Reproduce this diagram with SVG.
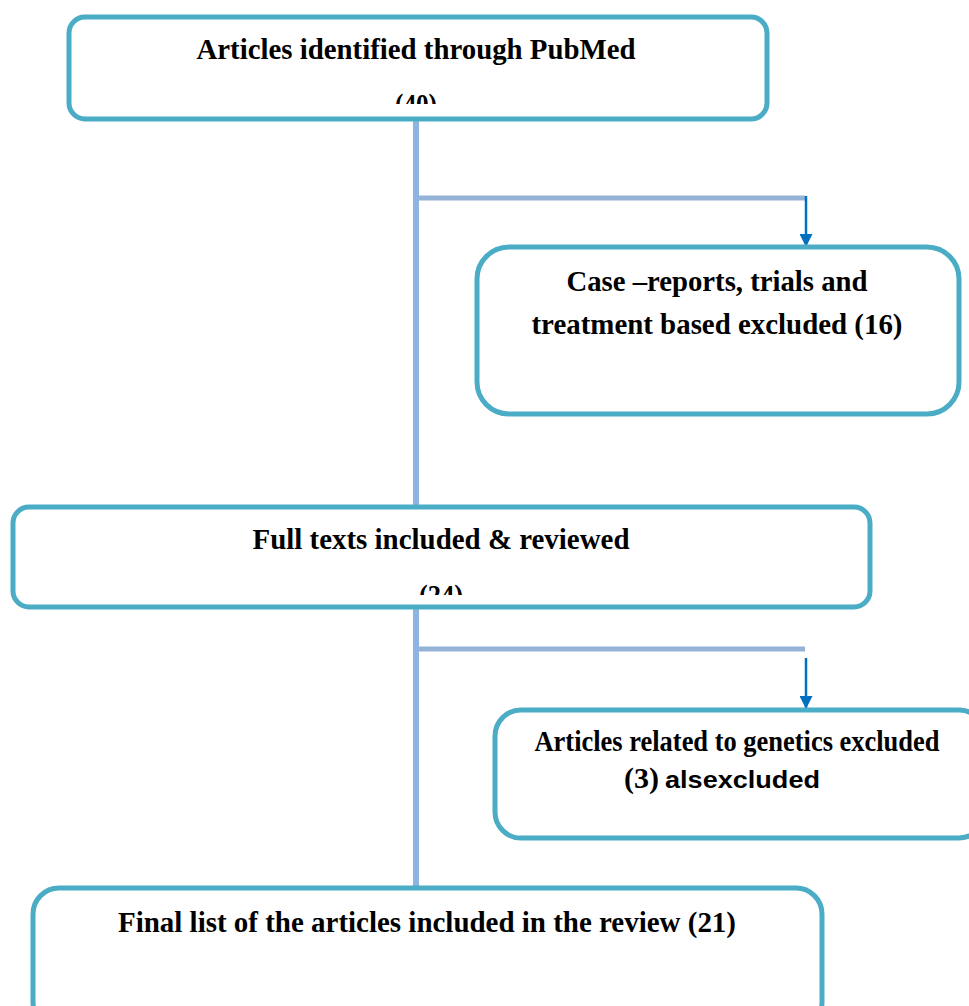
<svg xmlns="http://www.w3.org/2000/svg" width="969" height="1006" viewBox="0 0 969 1006">
<style>
.box{fill:#fff;stroke:#4BACC6;stroke-width:5}
.t{font-family:"Liberation Serif","Times New Roman",serif;font-weight:bold;font-size:29px;fill:#000}
.s{font-family:"Liberation Sans",Arial,sans-serif;font-weight:bold;font-size:24px;fill:#000}
.trunk{stroke:#8EB4E3;stroke-width:6;fill:none}
.branch{stroke:#95B3D7;stroke-width:5;fill:none}
.arr{stroke:#0070C0;stroke-width:2.5;fill:none}
</style>
<defs>
<marker id="ah" viewBox="0 0 10 10" refX="10" refY="5" markerWidth="13" markerHeight="13" markerUnits="userSpaceOnUse" orient="auto"><path d="M0,0 L10,5 L0,10 z" fill="#0070C0"/></marker>
<clipPath id="c1"><rect x="70" y="18" width="696" height="86"/></clipPath>
<clipPath id="c3"><rect x="14" y="508" width="855" height="87"/></clipPath>
</defs>
<g id="connectors">
<line class="trunk" x1="416" y1="120" x2="416" y2="507"/>
<line class="trunk" x1="416" y1="606" x2="416" y2="888"/>
<line class="branch" x1="419" y1="198" x2="805" y2="198"/>
<line class="branch" x1="419" y1="649" x2="805" y2="649"/>
<path d="M806,196 L806,247" class="arr" marker-end="url(#ah)"/>
<path d="M806,658 L806,709" class="arr" marker-end="url(#ah)"/>
</g>
<g id="n1">
<rect class="box" x="69" y="17" width="698" height="102" rx="16"/>
<text class="t" x="416" y="59" text-anchor="middle" textLength="439" lengthAdjust="spacingAndGlyphs">Articles identified through PubMed</text>
<text class="t" x="416" y="114" text-anchor="middle" textLength="42" lengthAdjust="spacingAndGlyphs" clip-path="url(#c1)">(40)</text>
</g>
<g id="n2">
<rect class="box" x="477" y="247" width="482" height="167" rx="32"/>
<text class="t" x="717" y="291" text-anchor="middle" textLength="301" lengthAdjust="spacingAndGlyphs">Case –reports, trials and</text>
<text class="t" x="717" y="334" text-anchor="middle" textLength="371" lengthAdjust="spacingAndGlyphs">treatment based excluded (16)</text>
</g>
<g id="n3">
<rect class="box" x="13" y="507" width="857" height="100" rx="16"/>
<text class="t" x="441" y="549" text-anchor="middle" textLength="377" lengthAdjust="spacingAndGlyphs">Full texts included &amp; reviewed</text>
<text class="t" x="441" y="605" text-anchor="middle" textLength="44" lengthAdjust="spacingAndGlyphs" clip-path="url(#c3)">(24)</text>
</g>
<g id="n4">
<rect class="box" x="495" y="710" width="490" height="128" rx="26"/>
<text class="t" x="737" y="751" text-anchor="middle" textLength="405" lengthAdjust="spacingAndGlyphs">Articles related to genetics excluded</text>
<text class="t" x="624" y="788" textLength="35" lengthAdjust="spacingAndGlyphs">(3)</text>
<text class="s" x="665" y="788" textLength="155" lengthAdjust="spacingAndGlyphs">alsexcluded</text>
</g>
<g id="n5">
<rect class="box" x="33" y="888" width="789" height="140" rx="26"/>
<text class="t" x="427" y="932" text-anchor="middle" textLength="618" lengthAdjust="spacingAndGlyphs">Final list of the articles included in the review (21)</text>
</g>
</svg>
